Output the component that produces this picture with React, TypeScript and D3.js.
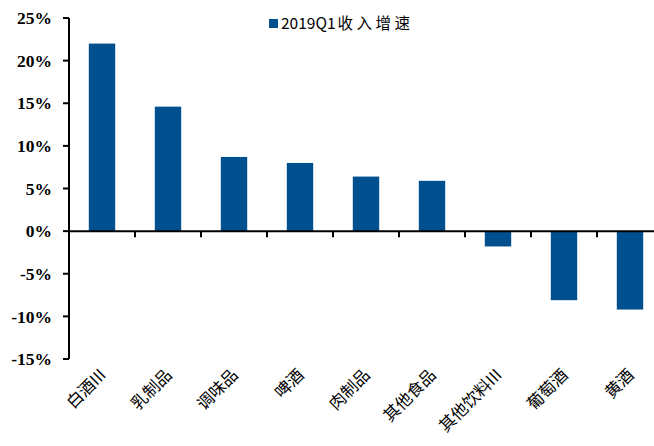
import React from "react";
import * as d3 from "d3";

const categories = ["白酒III", "乳制品", "调味品", "啤酒", "肉制品", "其他食品", "其他饮料III", "葡萄酒", "黄酒"];
const growth = [22.0, 14.6, 8.7, 8.0, 6.4, 5.9, -1.8, -8.1, -9.2];
const yTicks = [25, 20, 15, 10, 5, 0, -5, -10, -15];
const seriesCode = "2019Q1";
const seriesLabel = "收入增速";

const W = 654;
const H = 446;
const left = 69;
const right = 663;
const top = 18;
const bottom = 359;
const barColor = "#00508F";

export default function App() {
  const x = d3.scaleBand<string>().domain(categories).range([left, right]).paddingInner(0.6).paddingOuter(0.3);
  const band = d3.scaleBand<string>().domain(categories).range([left, right]);
  const y = d3.scaleLinear().domain([-15, 25]).range([bottom, top]);
  const y0 = y(0);

  return (
    <svg width={W} height={H} style={{ position: "absolute", left: 0, top: 0, background: "#fff" }}>
      {categories.map((c, i) => {
        const v = growth[i];
        return (
          <rect
            key={c}
            x={x(c)}
            y={Math.min(y(v), y0)}
            width={x.bandwidth()}
            height={Math.abs(y(v) - y0)}
            fill={barColor}
          />
        );
      })}
      {/* y axis */}
      <line x1={left} x2={left} y1={top} y2={bottom} stroke="#000" strokeWidth={2} />
      {yTicks.map((t) => (
        <g key={t}>
          <line x1={left - 6} x2={left} y1={y(t)} y2={y(t)} stroke="#000" strokeWidth={2} />
          <text
            x={52}
            y={y(t)}
            dy="0.35em"
            textAnchor="end"
            fontFamily="'Liberation Serif', 'Times New Roman', serif"
            fontWeight="bold"
            fontSize={17.5}
            fill="#000"
          >
            {t}%
          </text>
        </g>
      ))}
      {/* x axis at zero */}
      <line x1={left} x2={right} y1={y0} y2={y0} stroke="#000" strokeWidth={2} />
      {categories.slice(1).map((c) => (
        <line key={c} x1={band(c)} x2={band(c)} y1={y0} y2={y0 + 6} stroke="#000" strokeWidth={2} />
      ))}
      {categories.map((c) => {
        const cx = (band(c) as number) + band.bandwidth() / 2 + 5;
        const cy = 376;
        return (
          <text
            key={c}
            transform={`translate(${cx},${cy}) rotate(-45)`}
            textAnchor="end"
            fontFamily="'Noto Sans CJK SC', sans-serif"
            fontSize={16.5}
            fill="#000"
          >
            {c}
          </text>
        );
      })}
      {/* legend */}
      <rect x={269} y={19} width={9} height={9} fill={barColor} />
      <text x={281} y={29} fontFamily="'Noto Sans CJK SC', sans-serif" fontSize={15.5} fill="#000">
        <tspan>{seriesCode}</tspan>
        <tspan dx={2} letterSpacing={3.5}>{seriesLabel}</tspan>
      </text>
    </svg>
  );
}
